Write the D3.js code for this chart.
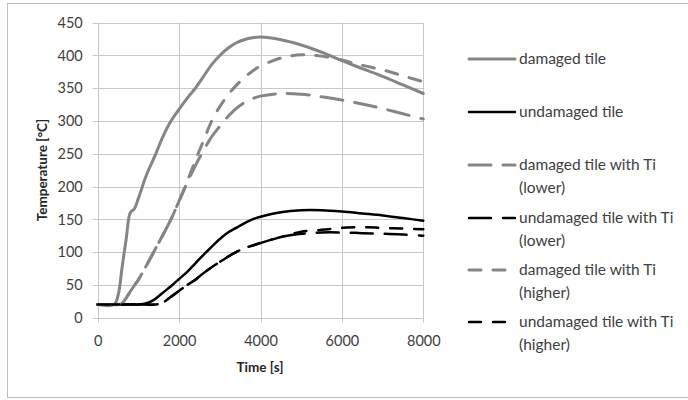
<!DOCTYPE html>
<html>
<head>
<meta charset="utf-8">
<script src="https://cdn.jsdelivr.net/npm/d3@7"></script>
<style>
  html, body { margin: 0; padding: 0; background: #fff; }
  svg { display: block; }
</style>
</head>
<body>
<svg id="chart" width="688" height="400"></svg>
<script>
// Time samples [s]
const time = [0, 400, 500, 600, 700, 800, 900, 1000, 1200, 1400, 1600, 1800, 2000, 2200, 2400, 2600, 2800, 3000, 3200, 3400, 3600, 3800, 4000, 4500, 5000, 5500, 6000, 6500, 7000, 7500, 8000];

// Temperatures [°C] per series
const damagedTile =            [20, 20, 34, 77, 120, 160, 166, 182, 218, 246, 276, 300, 318, 335, 350, 368, 386, 400, 411, 419, 424, 427, 428, 424, 416, 405, 392, 380, 368, 355, 342];
const undamagedTile =          [20, 20, 20, 20, 20, 20, 20, 20, 22, 28, 38, 48, 59, 70, 83, 96, 108, 120, 130, 137, 144, 150, 154, 161, 164, 164, 162, 159, 156, 152, 148];
const damagedTiLower =         [20, 20, 20, 22, 30, 40, 49, 58, 80, 103, 126, 150, 178, 206, 232, 255, 276, 292, 307, 319, 328, 334, 338, 342, 341, 337, 332, 326, 319, 311, 303];
const undamagedTiLower =       [20, 20, 20, 20, 20, 20, 20, 20, 20, 20, 23, 32, 41, 50, 58, 68, 77, 85, 93, 100, 106, 110, 114, 123, 128, 130, 130, 129, 128, 127, 125];
const damagedTiHigher =        [20, 20, 20, 22, 30, 40, 49, 58, 80, 103, 126, 150, 178, 208, 240, 270, 300, 322, 340, 354, 366, 376, 384, 396, 401, 399, 393, 385, 378, 369, 360];
const undamagedTiHigher =      [20, 20, 20, 20, 20, 20, 20, 20, 20, 20, 23, 32, 41, 50, 58, 68, 77, 85, 93, 100, 106, 110, 114, 123, 131, 134, 137, 138, 137, 136, 135];

const seriesNames = [
  ["damaged tile"],
  ["undamaged tile"],
  ["damaged tile with Ti", "(lower)"],
  ["undamaged tile with Ti", "(lower)"],
  ["damaged tile with Ti", "(higher)"],
  ["undamaged tile with Ti", "(higher)"]
];
const seriesValues = [damagedTile, undamagedTile, damagedTiLower, undamagedTiLower, damagedTiHigher, undamagedTiHigher];

const xTicks = [0, 2000, 4000, 6000, 8000];
const yTicks = [0, 50, 100, 150, 200, 250, 300, 350, 400, 450];

// Line styles
const styles = [
  { color: "#858585", width: 3,   dash: null },
  { color: "#000000", width: 2.5, dash: null },
  { color: "#858585", width: 3,   dash: "22,12" },
  { color: "#000000", width: 2.5, dash: "22,12" },
  { color: "#858585", width: 3,   dash: "12,12" },
  { color: "#000000", width: 2.5, dash: "12,12" }
];

const svg = d3.select("#chart");
const font = "Lato, 'Open Sans', sans-serif";

// Chart frame
svg.append("rect")
  .attr("x", 7.5).attr("y", 3.5)
  .attr("width", 700).attr("height", 394)
  .attr("fill", "#fff").attr("stroke", "#bdbdbd").attr("stroke-width", 1);

const x = d3.scaleLinear().domain([0, 8000]).range([97.7, 423.3]);
const y = d3.scaleLinear().domain([0, 450]).range([317.7, 22.7]);

// Grid
const grid = svg.append("g");
grid.selectAll("line.h").data(yTicks).join("line")
  .attr("x1", x(0) - 5).attr("x2", x(8000))
  .attr("y1", d => Math.round(y(d)) + 0.5).attr("y2", d => Math.round(y(d)) + 0.5)
  .attr("stroke", "#c8c8c8").attr("stroke-width", 1);
grid.selectAll("line.v").data(xTicks).join("line")
  .attr("y1", y(450)).attr("y2", y(0) + 5)
  .attr("x1", d => Math.round(x(d)) + 0.5).attr("x2", d => Math.round(x(d)) + 0.5)
  .attr("stroke", "#c8c8c8").attr("stroke-width", 1);

// Axes labels
const xAxis = d3.axisBottom(x).tickValues(xTicks).tickFormat(d3.format("d")).tickSize(0).tickPadding(18);
const gx = svg.append("g").attr("transform", `translate(0,${y(0)})`).call(xAxis);
gx.select(".domain").remove();
gx.selectAll("text").attr("font-family", font).attr("font-size", 14.5).attr("fill", "#404040");

const yAxis = d3.axisLeft(y).tickValues(yTicks).tickFormat(d3.format("d")).tickSize(0).tickPadding(15);
const gy = svg.append("g").attr("transform", `translate(${x(0)},0)`).call(yAxis);
gy.select(".domain").remove();
gy.selectAll("text").attr("font-family", font).attr("font-size", 14.5).attr("fill", "#404040");

svg.append("text")
  .attr("x", 260).attr("y", 372)
  .attr("text-anchor", "middle")
  .attr("font-family", font).attr("font-size", 13.5).attr("font-weight", "bold").attr("fill", "#262626")
  .text("Time [s]");
svg.append("text")
  .attr("transform", `translate(47,170) rotate(-90)`)
  .attr("text-anchor", "middle")
  .attr("font-family", font).attr("font-size", 13.5).attr("font-weight", "bold").attr("fill", "#262626")
  .text("Temperature [°C]");

// Series lines
const line = d3.line().x(d => x(d[0])).y(d => y(d[1])).curve(d3.curveCatmullRom.alpha(0.5));
seriesValues.forEach((vals, i) => {
  const s = styles[i];
  svg.append("path")
    .datum(time.map((t, j) => [t, vals[j]]))
    .attr("d", line)
    .attr("fill", "none")
    .attr("stroke", s.color)
    .attr("stroke-width", s.width)
    .attr("stroke-linecap", "round")
    .attr("stroke-linejoin", "round")
    .attr("stroke-dasharray", s.dash);
});

// Legend
const legendY = [59, 112, 165, 218, 270, 322];
const legend = svg.append("g");
seriesNames.forEach((lines, i) => {
  const s = styles[i];
  const g = legend.append("g").attr("transform", `translate(0,${legendY[i]})`);
  g.append("line")
    .attr("x1", 469).attr("x2", 515)
    .attr("y1", 0).attr("y2", 0)
    .attr("stroke", s.color).attr("stroke-width", s.width)
    .attr("stroke-linecap", "round")
    .attr("stroke-dasharray", s.dash);
  lines.forEach((t, k) => {
    g.append("text")
      .attr("x", 519).attr("y", 5 + k * 23)
      .attr("font-family", font).attr("font-size", 15.5).attr("fill", "#404040")
      .text(t);
  });
});
</script>
</body>
</html>
